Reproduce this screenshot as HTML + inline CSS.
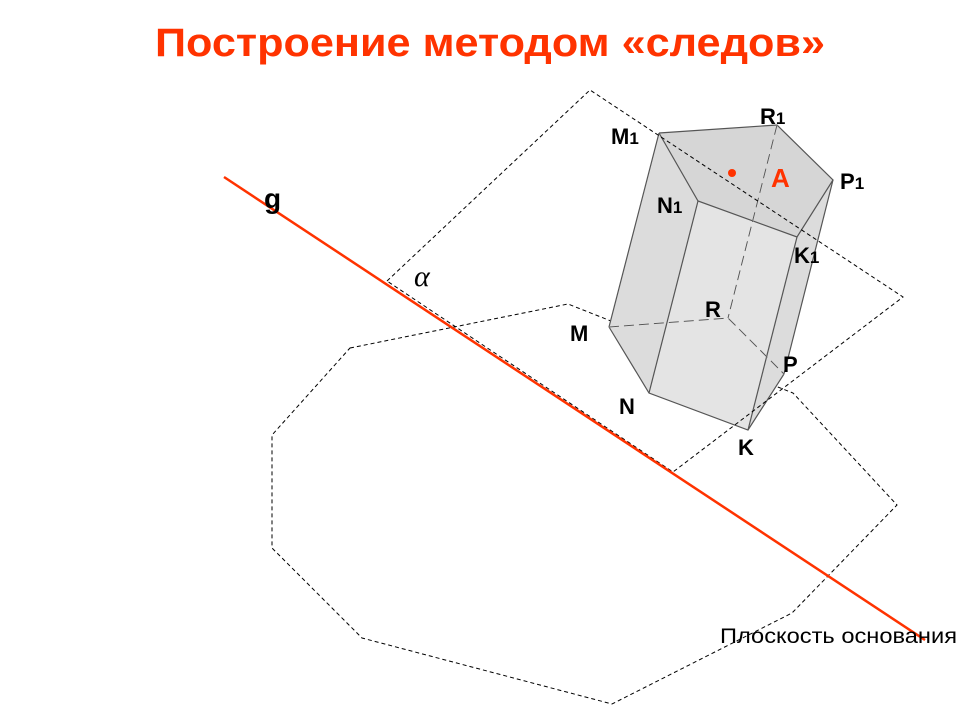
<!DOCTYPE html>
<html><head><meta charset="utf-8"><style>
html,body{margin:0;padding:0;background:#fff;}
svg{display:block;}
</style></head><body>
<svg width="960" height="720" viewBox="0 0 960 720" xmlns="http://www.w3.org/2000/svg">
<text x="155" y="56" textLength="670" lengthAdjust="spacingAndGlyphs" font-family="Liberation Sans, sans-serif" font-weight="bold" font-size="40" fill="#ff3300">Построение методом «следов»</text>
<!-- octagon base plane -->
<polygon points="350,348 568,304 793,393 897,505 792,613 612,704 362,638 272,548 272,435" fill="none" stroke="#000" stroke-width="1" stroke-dasharray="4,3"/>
<!-- prism faces -->
<polygon points="659,133 777,125 833,180 784,374 748,430 649,393 609,327" fill="#dcdcdc" stroke="none"/>
<polygon points="698,201 797,237 748,430 649,393" fill="#e4e4e4"/>
<polygon points="659,133 777,125 833,180 797,237 698,201" fill="#d6d6d6"/>
<g stroke="#555" stroke-width="1.2" fill="none">
<polyline points="659,133 777,125 833,180 797,237 698,201 659,133"/>
<line x1="659" y1="133" x2="609" y2="327"/>
<line x1="698" y1="201" x2="649" y2="393"/>
<line x1="797" y1="237" x2="748" y2="430"/>
<line x1="833" y1="180" x2="784" y2="374"/>
<polyline points="609,327 649,393 748,430 784,374"/>
</g>
<g stroke="#fff" stroke-width="1.2" stroke-dasharray="10,5" fill="none">
<line x1="777" y1="125" x2="728" y2="318"/>
<polyline points="609,327 728,318 784,374"/>
</g>
<g stroke="#555" stroke-width="1" stroke-dasharray="10,5" fill="none">
<line x1="777" y1="125" x2="728" y2="318"/>
<polyline points="609,327 728,318 784,374"/>
</g>
<!-- alpha plane -->
<polygon points="387,281 590,90 903,297 673,472" fill="none" stroke="#000" stroke-width="1" stroke-dasharray="4,3"/>
<!-- red line g -->
<line x1="224" y1="177" x2="925" y2="640" stroke="#ff3300" stroke-width="2.5"/>
<circle cx="732" cy="173" r="4" fill="#ff3300"/>
<g font-family="Liberation Sans, sans-serif" font-weight="bold" fill="#000">
<text x="264" y="208" font-size="28">g</text>
<text x="611" y="144" font-size="22">M<tspan font-size="17">1</tspan></text>
<text x="760" y="124" font-size="22">R<tspan font-size="17">1</tspan></text>
<text x="840" y="189" font-size="22">P<tspan font-size="17">1</tspan></text>
<text x="657" y="213" font-size="22">N<tspan font-size="17">1</tspan></text>
<text x="794" y="263" font-size="22">K<tspan font-size="17">1</tspan></text>
<text x="705" y="317" font-size="22">R</text>
<text x="570" y="341" font-size="22">M</text>
<text x="783" y="372" font-size="22">P</text>
<text x="619" y="414" font-size="22">N</text>
<text x="738" y="455" font-size="22">K</text>
<text x="771" y="187" font-size="26" fill="#ff3300">A</text>
</g>
<text x="414" y="286" font-family="Liberation Serif, serif" font-style="italic" font-size="30">α</text>
<text x="720" y="643" textLength="237" lengthAdjust="spacingAndGlyphs" font-family="Liberation Sans, sans-serif" font-size="21">Плоскость основания</text>
</svg>
</body></html>
